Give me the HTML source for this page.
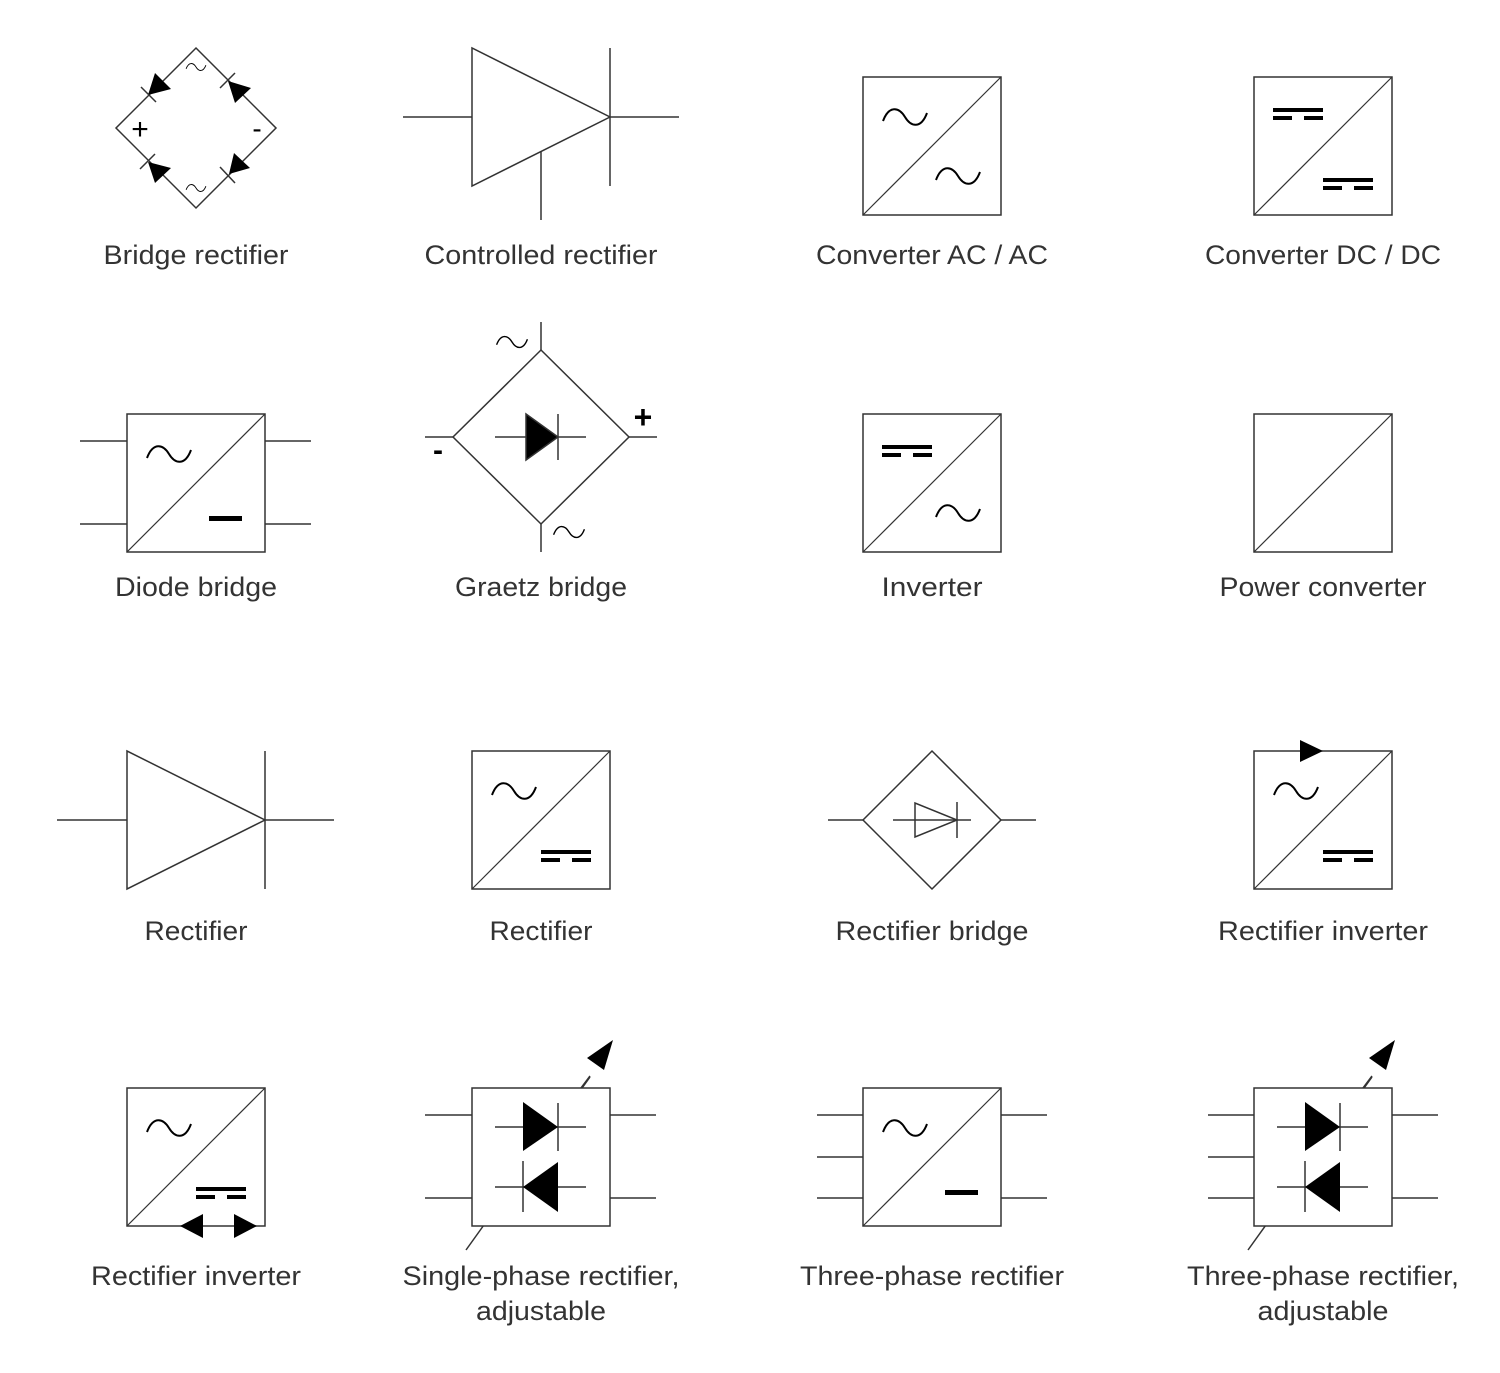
<!DOCTYPE html>
<html><head><meta charset="utf-8"><style>
html,body{margin:0;padding:0;background:#fff}
svg{display:block}
text{font-family:"Liberation Sans","DejaVu Sans",sans-serif;font-size:27px;fill:#333;text-anchor:middle}
</style></head><body>
<svg width="1500" height="1373" viewBox="0 0 1500 1373" xmlns="http://www.w3.org/2000/svg">
<defs>
<path id="sn" d="M-22,4 C-16,-12 -6,-10 0,0 S16,12 22,-4" fill="none" stroke="#000" stroke-width="2"/>
<g id="dc"><rect x="-25" y="-2" width="50" height="4" fill="#000"/><rect x="-25" y="6" width="19" height="4" fill="#000"/><rect x="6" y="6" width="19" height="4" fill="#000"/></g>
<g id="bx"><rect x="0" y="0" width="138" height="138" fill="#fff" stroke="#333" stroke-width="1.5"/><line x1="0" y1="138" x2="138" y2="0" stroke="#333" stroke-width="1.2"/></g>
</defs>
<g stroke="#333" stroke-width="1.5" fill="none">
<!-- Bridge rectifier -->
<polygon points="196,48 276,128 196,208 116,128"/>
<g fill="#000" stroke="none">
<polygon points="148,95 155,73 171,89"/>
<polygon points="228,81 235,103 251,88"/>
<polygon points="148,162 155,183 171,168"/>
<polygon points="229,174 234,153 250,168"/>
</g>
<line x1="141" y1="87" x2="156" y2="102"/><line x1="220" y1="88" x2="235" y2="73"/>
<line x1="140" y1="169" x2="155" y2="154"/><line x1="220" y1="167" x2="235" y2="183"/>
<!-- Controlled rectifier -->
<polygon points="472,48 472,186 610,117"/>
<line x1="610" y1="48" x2="610" y2="186"/>
<line x1="403" y1="117" x2="472" y2="117"/><line x1="610" y1="117" x2="679" y2="117"/>
<line x1="541" y1="151" x2="541" y2="220"/>
<!-- Graetz -->
<polygon points="541,350 629,437 541,524 453,437"/>
<line x1="541" y1="322" x2="541" y2="350"/><line x1="541" y1="524" x2="541" y2="552"/>
<line x1="425" y1="437" x2="453" y2="437"/><line x1="629" y1="437" x2="657" y2="437"/>
<line x1="495" y1="437" x2="586" y2="437"/><line x1="558" y1="414" x2="558" y2="460"/>
<polygon points="526,414 526,460 558,437" fill="#000"/>
<!-- Diode bridge leads -->
<line x1="80" y1="441" x2="127" y2="441"/><line x1="80" y1="524" x2="127" y2="524"/>
<line x1="265" y1="441" x2="311" y2="441"/><line x1="265" y1="524" x2="311" y2="524"/>
<!-- Rectifier row3 -->
<polygon points="127,751 127,889 265,820"/>
<line x1="265" y1="751" x2="265" y2="889"/>
<line x1="57" y1="820" x2="127" y2="820"/><line x1="265" y1="820" x2="334" y2="820"/>
<!-- Rectifier bridge -->
<polygon points="932,751 1001,820 932,889 863,820"/>
<line x1="828" y1="820" x2="863" y2="820"/><line x1="1001" y1="820" x2="1036" y2="820"/>
<line x1="893" y1="820" x2="971" y2="820"/><line x1="957" y1="802" x2="957" y2="838"/>
<polygon points="915,803 915,837 957,820"/>
<!-- row4 leads -->
<line x1="425" y1="1115" x2="472" y2="1115"/><line x1="425" y1="1198" x2="472" y2="1198"/>
<line x1="610" y1="1115" x2="656" y2="1115"/><line x1="610" y1="1198" x2="656" y2="1198"/>
<line x1="466" y1="1250" x2="590" y2="1077"/>
<line x1="817" y1="1115" x2="863" y2="1115"/><line x1="817" y1="1157" x2="863" y2="1157"/><line x1="817" y1="1198" x2="863" y2="1198"/>
<line x1="1001" y1="1115" x2="1047" y2="1115"/><line x1="1001" y1="1198" x2="1047" y2="1198"/>
<line x1="1208" y1="1115" x2="1254" y2="1115"/><line x1="1208" y1="1157" x2="1254" y2="1157"/><line x1="1208" y1="1198" x2="1254" y2="1198"/>
<line x1="1392" y1="1115" x2="1438" y2="1115"/><line x1="1392" y1="1198" x2="1438" y2="1198"/>
<line x1="1248" y1="1250" x2="1372" y2="1077"/>
</g>
<g fill="#000">
<polygon points="613,1040 587,1058 604,1070"/>
<polygon points="1395,1040 1369,1058 1386,1070"/>
</g>
<!-- boxes -->
<use href="#bx" x="863" y="77"/><use href="#bx" x="1254" y="77"/>
<use href="#bx" x="127" y="414"/><use href="#bx" x="863" y="414"/><use href="#bx" x="1254" y="414"/>
<use href="#bx" x="472" y="751"/><use href="#bx" x="1254" y="751"/>
<use href="#bx" x="127" y="1088"/><use href="#bx" x="863" y="1088"/>
<rect x="472" y="1088" width="138" height="138" fill="#fff" stroke="#333" stroke-width="1.5"/>
<rect x="1254" y="1088" width="138" height="138" fill="#fff" stroke="#333" stroke-width="1.5"/>
<line x1="581" y1="1088" x2="590" y2="1076" stroke="#333" stroke-width="1.5"/>
<line x1="1363" y1="1088" x2="1372" y2="1076" stroke="#333" stroke-width="1.5"/>
<!-- sines -->
<use href="#sn" x="905" y="117"/><use href="#sn" x="958" y="176"/>
<use href="#dc" x="1298" y="110"/><use href="#dc" x="1348" y="180"/>
<use href="#sn" x="169" y="454"/><rect x="209" y="516" width="33" height="5" fill="#000"/>
<use href="#dc" x="907" y="447"/><use href="#sn" x="958" y="513"/>
<use href="#sn" x="514" y="791"/><use href="#dc" x="566" y="852"/>
<use href="#sn" x="1296" y="791"/><use href="#dc" x="1348" y="852"/>
<polygon points="1300,740 1300,762 1323,751" fill="#000"/>
<use href="#sn" x="169" y="1128"/><use href="#dc" x="221" y="1189"/>
<polygon points="180,1226 203,1214 203,1238" fill="#000"/><polygon points="257,1226 234,1214 234,1238" fill="#000"/>
<use href="#sn" x="905" y="1128"/><rect x="945" y="1190" width="33" height="5" fill="#000"/>
<!-- diodes in boxes -->
<g stroke="#333" stroke-width="1.5">
<line x1="495" y1="1127" x2="586" y2="1127"/><line x1="558" y1="1103" x2="558" y2="1151"/>
<line x1="495" y1="1187" x2="586" y2="1187"/><line x1="523" y1="1161" x2="523" y2="1212"/>
<line x1="1277" y1="1127" x2="1368" y2="1127"/><line x1="1340" y1="1103" x2="1340" y2="1151"/>
<line x1="1277" y1="1187" x2="1368" y2="1187"/><line x1="1305" y1="1161" x2="1305" y2="1212"/>
</g>
<g fill="#000">
<polygon points="523,1102 523,1151 558,1127"/><polygon points="558,1162 558,1212 523,1187"/>
<polygon points="1305,1102 1305,1151 1340,1127"/><polygon points="1340,1162 1340,1212 1305,1187"/>
</g>
<use href="#sn" transform="translate(196,67) scale(0.45)"/>
<use href="#sn" transform="translate(196,188) scale(0.45)"/>
<text x="140" y="139" style="font-size:30px;fill:#000">+</text>
<text x="257" y="138" style="font-size:28px;fill:#000">-</text>
<use href="#sn" transform="translate(512,342) scale(0.7)"/>
<use href="#sn" transform="translate(569,532) scale(0.7)"/>
<text x="643" y="428" style="font-size:32px;fill:#000;font-weight:bold">+</text>
<text x="438" y="460" style="font-size:30px;fill:#000;font-weight:bold">-</text>
<!-- labels -->
<text x="196" y="264" textLength="185" lengthAdjust="spacingAndGlyphs">Bridge rectifier</text>
<text x="541" y="264" textLength="233" lengthAdjust="spacingAndGlyphs">Controlled rectifier</text>
<text x="932" y="264" textLength="232" lengthAdjust="spacingAndGlyphs">Converter AC / AC</text>
<text x="1323" y="264" textLength="236" lengthAdjust="spacingAndGlyphs">Converter DC / DC</text>
<text x="196" y="596" textLength="162" lengthAdjust="spacingAndGlyphs">Diode bridge</text>
<text x="541" y="596" textLength="172" lengthAdjust="spacingAndGlyphs">Graetz bridge</text>
<text x="932" y="596" textLength="101" lengthAdjust="spacingAndGlyphs">Inverter</text>
<text x="1323" y="596" textLength="207" lengthAdjust="spacingAndGlyphs">Power converter</text>
<text x="196" y="940" textLength="103" lengthAdjust="spacingAndGlyphs">Rectifier</text>
<text x="541" y="940" textLength="103" lengthAdjust="spacingAndGlyphs">Rectifier</text>
<text x="932" y="940" textLength="193" lengthAdjust="spacingAndGlyphs">Rectifier bridge</text>
<text x="1323" y="940" textLength="210" lengthAdjust="spacingAndGlyphs">Rectifier inverter</text>
<text x="196" y="1285" textLength="210" lengthAdjust="spacingAndGlyphs">Rectifier inverter</text>
<text x="541" y="1285" textLength="277" lengthAdjust="spacingAndGlyphs">Single-phase rectifier,</text>
<text x="541" y="1320" textLength="130" lengthAdjust="spacingAndGlyphs">adjustable</text>
<text x="932" y="1285" textLength="264" lengthAdjust="spacingAndGlyphs">Three-phase rectifier</text>
<text x="1323" y="1285" textLength="272" lengthAdjust="spacingAndGlyphs">Three-phase rectifier,</text>
<text x="1323" y="1320" textLength="131" lengthAdjust="spacingAndGlyphs">adjustable</text>
</svg>
</body></html>
